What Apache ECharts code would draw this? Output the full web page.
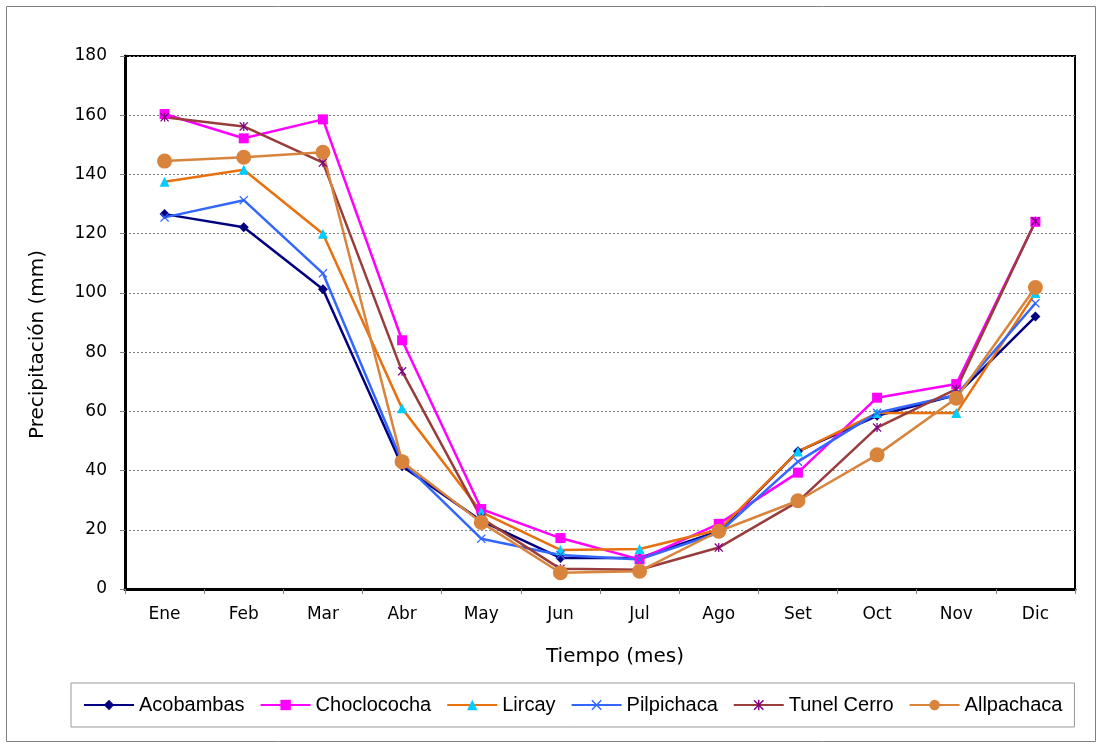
<!DOCTYPE html>
<html>
<head>
<meta charset="utf-8">
<script src="https://cdn.jsdelivr.net/npm/echarts@6/dist/echarts.min.js"></script>
<style>
  html, body { margin: 0; padding: 0; background: #fff; }
  #chart { width: 1102px; height: 743px; }
</style>
</head>
<body>
<div id="chart"></div>
<script>
// Monthly precipitation (mm) per station
const months = ['Ene', 'Feb', 'Mar', 'Abr', 'May', 'Jun', 'Jul', 'Ago', 'Set', 'Oct', 'Nov', 'Dic'];
const acobambas   = [126.6, 122.2, 101.2, 41.5, 23.0, 10.5, 10.5, 19.5, 46.5, 58.5, 65.5, 92.0];
const choclococha = [160.4, 152.2, 158.6, 84.0, 27.0, 17.2, 10.0, 22.0, 39.3, 64.6, 69.2, 124.0];
const lircay      = [137.5, 141.6, 120.0, 61.0, 26.0, 13.2, 13.5, 20.0, 46.4, 59.4, 59.4, 100.0];
const pilpichaca  = [125.5, 131.3, 106.6, 43.0, 17.0, 11.5, 10.0, 19.0, 43.0, 59.5, 65.5, 96.5];
const tunelCerro  = [159.3, 156.2, 144.0, 73.5, 24.0, 6.8, 6.5, 14.0, 29.5, 54.5, 67.5, 124.2];
const allpachaca  = [144.5, 145.8, 147.5, 43.0, 22.5, 5.5, 6.0, 19.5, 29.8, 45.3, 64.4, 101.8];
const yTicks = { min: 0, max: 180, step: 20 };

const crossPath = 'path://M1,0L5,4L9,0L10,1L6,5L10,9L9,10L5,6L1,10L0,9L4,5L0,1Z';
const starPath = 'path://M1,0L5,4L9,0L10,1L6,5L10,9L9,10L5,6L1,10L0,9L4,5L0,1ZM4.3,0L5.7,0L5.7,10L4.3,10Z';

function line(name, data, lineColor, markColor, symbol, size) {
  return {
    name, type: 'line', data,
    symbol, symbolSize: size,
    showAllSymbol: true,
    lineStyle: { color: lineColor, width: 2.5 },
    itemStyle: { color: markColor, borderWidth: 0 },
    emphasis: { disabled: true },
    animation: false
  };
}

const chart = echarts.init(document.getElementById('chart'), null, { renderer: 'canvas' });
chart.setOption({
  backgroundColor: '#fff',
  animation: false,
  graphic: [{
    type: 'rect', silent: true, z: -10,
    shape: { x: 6.5, y: 6.5, width: 1089, height: 735 },
    style: { fill: 'none', stroke: '#808080', lineWidth: 1 }
  }],
  grid: {
    left: 125, right: 27, top: 56, bottom: 154,
    show: true, borderColor: '#000', borderWidth: 2, backgroundColor: '#fff'
  },
  legend: {
    left: 71, top: 683,
    padding: [12, 12, 12, 12],
    itemGap: 15, itemWidth: 50, itemHeight: 13,
    borderColor: '#999', borderWidth: 1,
    textStyle: { fontFamily: 'Liberation Sans', fontSize: 20, color: '#000' },
    selectedMode: false
  },
  xAxis: {
    type: 'category', data: months, boundaryGap: true,
    name: 'Tiempo (mes)', nameLocation: 'middle', nameGap: 58,
    nameTextStyle: { fontFamily: 'DejaVu Sans', fontSize: 20, color: '#000', padding: [0, 0, 0, 30] },
    axisLine: { lineStyle: { color: '#000', width: 3 } },
    axisTick: { show: true, length: 5, interval: 0, lineStyle: { color: '#808080', width: 1 } },
    axisLabel: { fontFamily: 'DejaVu Sans', fontSize: 17, color: '#000', margin: 17, interval: 0 },
    splitLine: { show: false }
  },
  yAxis: {
    type: 'value', min: yTicks.min, max: yTicks.max, interval: yTicks.step,
    name: 'Precipitación (mm)', nameLocation: 'middle', nameGap: 77,
    nameTextStyle: { fontFamily: 'DejaVu Sans', fontSize: 20, color: '#000', padding: [0, 44, 0, 0] },
    axisLine: { show: true, lineStyle: { color: '#000', width: 3 } },
    axisTick: { show: true, length: 5, lineStyle: { color: '#808080', width: 1 } },
    axisLabel: { fontFamily: 'DejaVu Sans', fontSize: 17, color: '#000', margin: 18 },
    splitLine: { show: true, lineStyle: { color: '#808080', width: 1, type: [2, 2] } }
  },
  series: [
    line('Acobambas', acobambas, '#000080', '#000080', 'diamond', 10),
    line('Choclococha', choclococha, '#FF00FF', '#FF00FF', 'rect', 10),
    line('Lircay', lircay, '#E8700E', '#00CCFF', 'triangle', 10),
    line('Pilpichaca', pilpichaca, '#3366FF', '#3366FF', crossPath, 9),
    line('Tunel Cerro', tunelCerro, '#993C3C', '#800080', starPath, 9),
    line('Allpachaca', allpachaca, '#D9843D', '#D9843D', 'circle', 15)
  ]
});
</script>
</body>
</html>
